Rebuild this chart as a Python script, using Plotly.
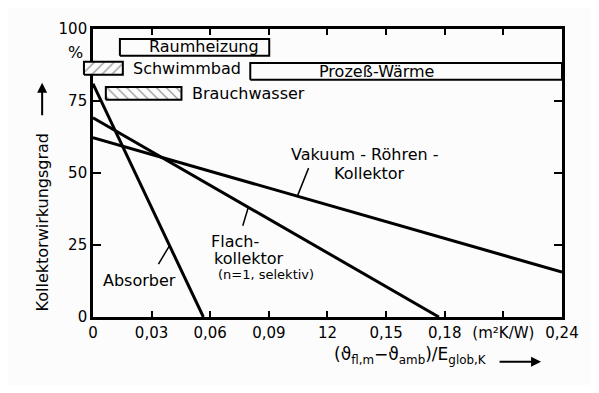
import plotly.graph_objects as go

# ---- data ----
absorber_x = [0.0, 0.0565]
absorber_y = [81.0, 0.0]
flach_x = [0.0, 0.177]
flach_y = [69.2, 0.0]
vakuum_x = [0.0, 0.24]
vakuum_y = [62.3, 15.6]

box_names = ["Raumheizung", "Schwimmbad", "Prozeß-Wärme", "Brauchwasser"]
box_x0 = [0.0138, -0.0046, 0.0805, 0.0066]
box_x1 = [0.0902, 0.0153, 0.2400, 0.0453]
box_y0 = [90.7, 84.1, 82.4, 75.4]
box_y1 = [96.5, 88.6, 88.2, 79.9]
box_hatch = ["", "/", "", "\\"]

x_tickvals = [0, 0.03, 0.06, 0.09, 0.12, 0.15, 0.18, 0.21, 0.24]
x_ticktext = ["0", "0,03", "0,06", "0,09", "12", "0,15", "0,18", "(m²K/W)", "0,24"]
y_tickvals = [0, 25, 50, 75, 100]
y_ticktext = ["0", "25", "50", "75", "100"]

FONT = "DejaVu Sans"
OFF = 8                      # default page body margin
W, H = 583, 377
ML, MT = 70, 20
PLOT_L, PLOT_R, PLOT_T, PLOT_B = 93, 564, 28, 317   # wanted window positions
MR = W - (PLOT_R - OFF)
MB = H - (PLOT_B - OFF)
XMAX = 0.24
plot_w = W - ML - MR
plot_h = H - MT - MB
d0 = (PLOT_L - OFF - ML) / plot_w
x2_min = -XMAX * d0 / (1 - d0)

def px(xp):
    return (xp - OFF - ML) / plot_w

def py(yp):
    return 1 - (yp - OFF - MT) / plot_h

fig = go.Figure()

# boxes on a secondary x axis with the same scale but a wider domain (not clipped at x=0)
for name, x0, x1, y0, y1, hatch in zip(box_names, box_x0, box_x1, box_y0, box_y1, box_hatch):
    kw = dict(
        x=[x0, x1, x1, x0, x0], y=[y0, y0, y1, y1, y0],
        mode="lines", fill="toself", fillcolor="#fcfcfc",
        line=dict(color="black", width=2),
        xaxis="x2", yaxis="y", showlegend=False, hoverinfo="skip",
    )
    if hatch:
        kw["fillpattern"] = dict(shape=hatch, fgcolor="black", bgcolor="#fcfcfc",
                                 size=7, solidity=0.15, fillmode="overlay")
    fig.add_trace(go.Scatter(**kw))

for xs, ys in [(absorber_x, absorber_y), (flach_x, flach_y), (vakuum_x, vakuum_y)]:
    fig.add_trace(go.Scatter(x=xs, y=ys, mode="lines",
                             line=dict(color="black", width=3),
                             showlegend=False, hoverinfo="skip"))

ann = []
def txt(xp, yp, t, size=16, xanchor="center", angle=0):
    ann.append(dict(x=px(xp), y=py(yp), xref="paper", yref="paper", text=t,
                    showarrow=False, xanchor=xanchor, yanchor="middle",
                    textangle=angle,
                    font=dict(family=FONT, size=size, color="black")))

def pointer(x, y, ax, ay, head=0, width=1.5, ref="x"):
    ann.append(dict(x=x, y=y, xref=ref, yref=ref.replace("x", "y"), text="",
                    showarrow=True, arrowhead=head, arrowwidth=width,
                    arrowcolor="black", arrowsize=1, ax=ax, ay=ay))

# box labels
txt(205, 46, box_names[0])
txt(131, 68, box_names[1], xanchor="left")
txt(378, 71, box_names[2])
txt(190, 93, box_names[3], xanchor="left")

# curve labels
txt(366, 154, "Vakuum - Röhren -")
txt(371, 173, "Kollektor")
pointer(0.1045, 41.8, 12, -30)
txt(236, 241, "Flach-")
txt(250, 258, "kollektor")
txt(267, 274, "(n=1, selektiv)", size=13)
pointer(0.0795, 38.1, -6, 20)
txt(140, 280, "Absorber")
pointer(0.0392, 24.8, -12, 20)

# axis titles
txt(75, 52, "%")
txt(42, 222, "Kollektorwirkungsgrad", angle=-90)
ann.append(dict(x=px(42), y=py(82), xref="paper", yref="paper", text="",
                showarrow=True, arrowhead=2, arrowwidth=2, arrowsize=1,
                arrowcolor="black", ax=0, ay=34))
txt(412, 356, "(ϑ<sub>fl,m</sub>−ϑ<sub>amb</sub>)/E<sub>glob,K</sub>", size=17)
ann.append(dict(x=px(543), y=py(362), xref="paper", yref="paper", text="",
                showarrow=True, arrowhead=2, arrowwidth=2, arrowsize=1,
                arrowcolor="black", ax=-43, ay=0))

axis_common = dict(showgrid=False, zeroline=False, fixedrange=True,
                   ticks="inside", tickwidth=1.5, tickcolor="black",
                   showline=True, linecolor="black", linewidth=2.5, mirror="ticks",
                   tickfont=dict(family=FONT, size=15, color="black"))

fig.update_layout(
    width=W, height=H, autosize=False,
    margin=dict(l=ML, r=MR, t=MT, b=MB, pad=0),
    paper_bgcolor="#fcfcfc", plot_bgcolor="rgba(0,0,0,0)",
    annotations=ann,
    font=dict(family=FONT, size=15, color="black"),
    xaxis=dict(domain=[d0, 1], range=[0, XMAX], tickvals=x_tickvals,
               ticktext=x_ticktext, ticklen=6, anchor="y", **axis_common),
    xaxis2=dict(domain=[0, 1], range=[x2_min, XMAX], visible=False,
                anchor="y", fixedrange=True),
    yaxis=dict(range=[0, 100], tickvals=y_tickvals, ticktext=y_ticktext,
               ticklen=8, anchor="x", **axis_common),
)

fig.write_html("out.html")
